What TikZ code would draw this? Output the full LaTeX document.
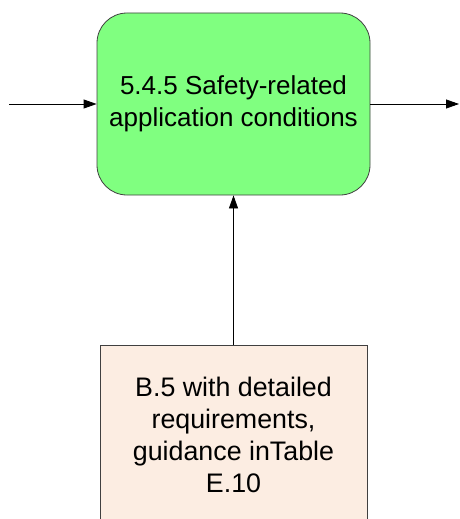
\documentclass[tikz,border=0pt]{standalone}
\usepackage{fontspec}
\setmainfont{Liberation Sans}
\usetikzlibrary{arrows.meta}
\definecolor{procgreen}{RGB}{128,255,128}
\definecolor{srcfill}{RGB}{252,237,226}
\definecolor{edgegray}{RGB}{64,64,64}
\tikzset{
  x=1pt, y=-1pt,
  process/.style={draw=edgegray, line width=0.8pt, fill=procgreen,
    rounded corners=30pt, minimum width=273pt, minimum height=182pt,
    align=center, inner sep=0pt,
    font=\fontsize{26}{31.5}\selectfont},
  source/.style={draw=edgegray, line width=0.8pt, fill=srcfill,
    minimum width=267pt, minimum height=180pt,
    align=center, inner sep=0pt,
    font=\fontsize{26.8}{32}\selectfont},
  flow/.style={line width=0.8pt, -{Triangle[length=13pt,width=9pt]}}
}
\begin{document}
\begin{tikzpicture}
\useasboundingbox (0,0) rectangle (459,519);
\clip (0,0) rectangle (459,519);
\node[process] (sac) at (233.5,104) {5.4.5 Safety-related\\application conditions};
\node[source] (b5) at (233.5,435) {B.5 with detailed\\requirements,\\guidance inTable\\E.10};
\coordinate (inL) at (9,104);
\coordinate (outR) at (459,104);
\draw[flow] (inL) -- (sac.west);
\draw[flow] (sac.east) -- (outR);
\draw[flow] (b5.north) -- (sac.south);
\end{tikzpicture}
\end{document}
